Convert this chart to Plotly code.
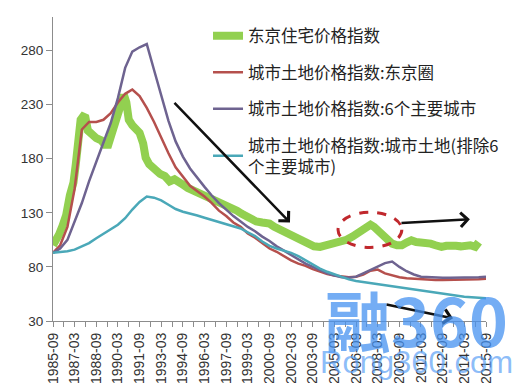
import plotly.graph_objects as go

# ---- categories (semiannual, Mar / Sep) ----
semi_dates = [f"{1985 + (8 + 6 * i) // 12}-{(8 + 6 * i) % 12 + 1:02d}-01" for i in range(61)]

tick_labels = ["1985-09", "1987-03", "1988-09", "1990-03", "1991-09", "1993-03", "1994-09",
               "1996-03", "1997-09", "1999-03", "2000-09", "2002-03", "2003-09", "2005-03",
               "2006-09", "2008-03", "2009-09", "2011-03", "2012-09", "2014-03", "2015-09"]
tick_dates = [lab + "-01" for lab in tick_labels]
y_ticks = [30, 80, 130, 180, 230, 280]

# ---- series values ----
tokyo_area = [93, 100, 117, 152, 207, 214, 214, 216, 222, 232, 240, 244, 238, 227, 214, 199,
              185, 172, 163, 155, 150, 145, 139, 132, 127, 121, 117, 111, 107, 102, 97, 94,
              90, 86, 83, 81, 78, 75.5, 73.5, 72, 71, 70.5, 71, 73, 76.5, 77.5, 74, 72,
              70.5, 69.5, 69, 68.5, 68.5, 68, 68, 68, 68, 68, 68.5, 68.5, 69]

six_cities = [93, 97, 105, 121, 139, 159, 178, 195, 213, 236, 264, 279, 283, 286, 262, 238,
              215, 196, 182, 171, 162, 154, 146, 139, 133, 127, 122, 117, 113, 108, 104, 99,
              95, 91, 87, 83, 80, 77, 74, 72, 70.5, 70, 71, 74, 77, 80.5, 83.5, 85,
              80, 76, 73, 71, 70.5, 70, 70, 70, 70, 70, 70.5, 70.5, 71]

other_cities = [93, 93.5, 94.5, 96, 99, 102, 106.5, 110.5, 114.5, 119, 125, 133, 140, 145, 144,
                141.5, 137.5, 133.5, 131, 129.5, 127.5, 125.5, 123.5, 121.5, 119.5, 117.5, 115.5,
                112, 108.5, 103.5, 99.5, 97, 95, 93, 90, 86, 82, 78.5, 75.5, 73, 70.5, 68.5,
                67, 66, 65, 64, 63, 62, 61, 60, 59, 58, 57, 56, 55, 54, 53.5, 52.5, 52, 51.5, 51]

house_dates = ["1985-09", "1985-11", "1986-02", "1986-05", "1986-08", "1986-11", "1987-02",
               "1987-04", "1987-06", "1987-08", "1987-10", "1987-12", "1988-02", "1988-05",
               "1988-09", "1989-01", "1989-04", "1989-07", "1989-09", "1989-12", "1990-03",
               "1990-06", "1990-08", "1990-10", "1990-12", "1991-03", "1991-06", "1991-09",
               "1991-12", "1992-02", "1992-05", "1992-09", "1993-02", "1993-06", "1993-10",
               "1994-02", "1994-05", "1994-09", "1995-01", "1995-05", "1995-10", "1996-04",
               "1996-08", "1996-12", "1997-04", "1997-09", "1998-01", "1998-06", "1998-10",
               "1999-02", "1999-06", "1999-10", "2000-03", "2000-09", "2001-01", "2001-06",
               "2001-10", "2002-02", "2002-06", "2002-10", "2003-02", "2003-06", "2003-10",
               "2004-03", "2004-07", "2004-11", "2005-03", "2005-08", "2006-01", "2006-06",
               "2006-10", "2007-03", "2007-07", "2007-09", "2007-12", "2008-03", "2008-08",
               "2008-12", "2009-03", "2009-07", "2009-11", "2010-03", "2010-07", "2010-11",
               "2011-03", "2011-07", "2011-11", "2012-03", "2012-08", "2012-12", "2013-04",
               "2013-08", "2013-12", "2014-04", "2014-08", "2014-12", "2015-03"]
house_values = [100, 103, 110, 118, 128, 146, 158, 175, 205, 216, 219, 218, 206, 202, 199, 197,
                193, 193, 200, 213, 225, 233, 239, 232, 216, 211, 207, 204, 194, 181, 175, 170,
                166, 164, 159, 161, 158, 156, 153, 151, 149, 146, 144, 142, 140, 138, 135, 132,
                129, 126, 124, 122, 121, 120, 117, 114, 112, 109, 107, 105, 102, 100, 99, 98.5,
                99.5, 100, 101, 103, 105, 108, 111, 114, 118, 119, 117, 114, 109, 104, 101.5,
                100, 100, 102.5, 104.5, 103, 103, 102.5, 101.5, 100, 98.5, 99.5, 100, 99.5, 99,
                99.5, 100, 98.5, 103]

names = ["东京住宅价格指数",
         "城市土地价格指数:东京圈",
         "城市土地价格指数:6个主要城市",
         "城市土地价格指数:城市土地(排除6<br>个主要城市)"]

fig = go.Figure()
fig.add_trace(go.Scatter(x=[d + "-01" for d in house_dates], y=house_values, mode="lines",
                         name=names[0], legendgroup="a",
                         line=dict(color="#92D050", width=8)))
fig.add_trace(go.Scatter(x=semi_dates, y=tokyo_area, mode="lines", name=names[1], legendgroup="b",
                         line=dict(color="#B5504D", width=2.5)))
fig.add_trace(go.Scatter(x=semi_dates, y=six_cities, mode="lines", name=names[2], legendgroup="c",
                         line=dict(color="#6E6390", width=2.5)))
fig.add_trace(go.Scatter(x=semi_dates, y=other_cities, mode="lines", name=names[3], legendgroup="d",
                         line=dict(color="#4AA8B8", width=2.5)))

arrow = dict(showarrow=True, arrowhead=4, arrowsize=1.1, arrowwidth=2.5, arrowcolor="#111",
             xref="x", yref="y", axref="x", ayref="y", text="")
fig.add_annotation(x="2002-02-01", y=121, ax="1993-12-25", ay=233, **arrow)
fig.add_annotation(x="2014-07-20", y=124, ax="2009-09-15", ay=120.5, **arrow)
fig.add_annotation(x="2013-05-20", y=32.5, ax="2008-09-01", ay=45.5, **arrow)

fig.add_shape(type="circle", xref="x", yref="y", x0="2005-06-01", x1="2009-11-01",
              y0=98, y1=130.5, line=dict(color="#C0282D", width=3, dash="dash"))

# watermark
fig.add_annotation(text="<b>融360</b>", xref="paper", yref="paper", x=0.84, y=0.01,
                   xanchor="center", yanchor="middle", showarrow=False,
                   font=dict(family="Noto Sans CJK SC", size=66, color="rgba(70,145,240,0.75)"))
fig.add_annotation(text="Rong360.com", xref="paper", yref="paper", x=0.84, y=-0.138,
                   xanchor="center", yanchor="middle", showarrow=False,
                   font=dict(family="Liberation Sans", size=31, color="rgba(90,160,245,0.7)"))

# the page body has an 8px margin, so the figure is sized / offset to compensate
fig.update_layout(
    width=517, height=375,
    margin=dict(l=45, r=39, t=9, b=62, autoexpand=False),
    plot_bgcolor="white", paper_bgcolor="white",
    legend=dict(x=0.358, y=0.995, xanchor="left", yanchor="top",
                bgcolor="rgba(0,0,0,0)", itemwidth=30, tracegroupgap=12,
                font=dict(family="Noto Sans CJK SC", size=16.5, color="#222")),
    xaxis=dict(type="date", range=["1985-09-01", "2015-09-01"], tickvals=tick_dates,
               ticktext=tick_labels, tickangle=-90, showline=True, linecolor="#8c8c8c",
               linewidth=1.2, ticks="outside", ticklen=5, tickcolor="#8c8c8c",
               showgrid=False, zeroline=False, automargin=False,
               minor=dict(ticks="outside", ticklen=5, tickcolor="#8c8c8c",
                          dtick="M9", tick0="1985-09-01", showgrid=False),
               tickfont=dict(family="Liberation Sans", size=14, color="#333")),
    yaxis=dict(range=[30, 311], tickvals=y_ticks, showline=True, linecolor="#8c8c8c",
               linewidth=1.2, ticks="outside", ticklen=6, tickcolor="#8c8c8c",
               showgrid=False, zeroline=False, automargin=False,
               tickfont=dict(family="Liberation Sans", size=13.5, color="#333")),
)

fig.write_html("out.html")
